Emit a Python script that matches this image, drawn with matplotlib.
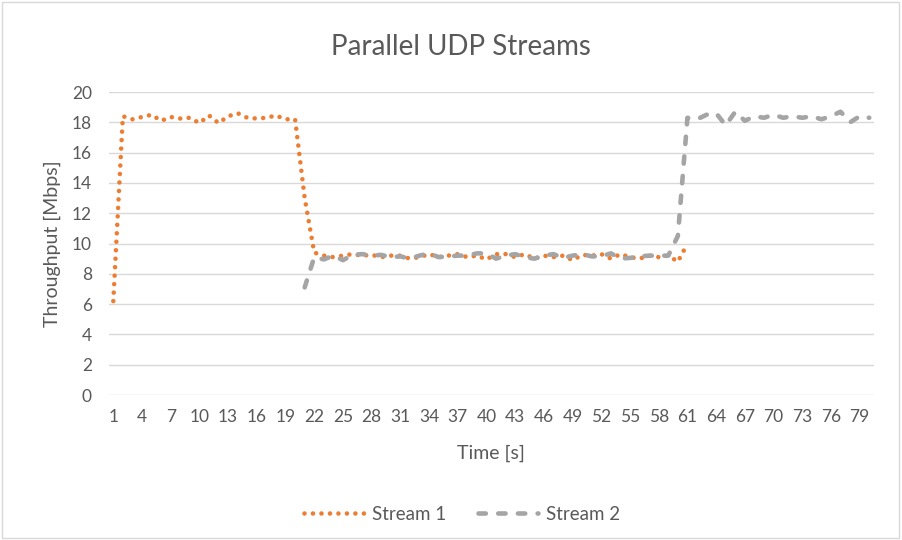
import matplotlib
matplotlib.use('Agg')
import matplotlib.pyplot as plt
from matplotlib.patches import Rectangle

# Throughput of the two UDP streams (Mbps per second)
time1 = list(range(1, 62))
stream1 = [6.2, 18.4, 18.2, 18.35, 18.5, 18.1, 18.35, 18.25, 18.3, 17.95,
           18.45, 17.95, 18.4, 18.6, 18.3, 18.25, 18.3, 18.45, 18.2, 18.2,
           13.0, 9.4,
           9.2, 9.1, 9.2, 9.3, 9.2, 9.25, 9.1, 9.2, 9.2, 9.0,
           9.1, 9.3, 9.1, 9.2, 9.3, 9.1, 9.2, 8.95, 9.3, 9.3,
           9.1, 9.3, 9.0, 9.2, 9.1, 9.2, 8.9, 9.25, 9.2, 9.3,
           9.0, 9.3, 9.1, 9.0, 9.2, 9.1, 9.2,
           8.8, 10.0]

time2 = list(range(21, 81))
stream2 = [7.1, 9.1,
           8.95, 9.2, 8.9, 9.25, 9.3, 9.2, 9.25, 9.1, 9.15, 9.0,
           9.2, 9.35, 9.1, 9.15, 9.2, 9.2, 9.35, 9.35, 9.0, 9.2,
           9.3, 9.1, 9.0, 9.2, 9.3, 9.05, 9.2, 9.3, 9.15, 9.15,
           9.35, 9.0, 9.05, 9.15, 9.2, 9.2, 9.2,
           10.5,
           18.3, 18.2, 18.5, 18.6, 17.8, 18.7, 18.1, 18.4, 18.3, 18.5,
           18.3, 18.4, 18.3, 18.4, 18.2, 18.4, 18.7, 18.0, 18.4, 18.3]

xticks = list(range(1, 81, 3))
yticks = list(range(0, 21, 2))

plt.rcParams['font.family'] = ['Lato', 'DejaVu Sans']
txt = '#595959'

fig = plt.figure(figsize=(9.02, 5.4), dpi=100)
fig.patches.append(Rectangle((0.002, 0.004), 0.995, 0.993, transform=fig.transFigure,
                             fill=False, edgecolor='#d9d9d9', linewidth=1))
ax = fig.add_axes([0.1203, 0.2685, 0.8487, 0.5611])

ax.plot(time1, stream1, color='#ED7D31', linewidth=3.3,
        linestyle=(0, (0.001, 1.85)), dash_capstyle='round', label='Stream 1')
ax.plot(time2, stream2, color='#A5A5A5', linewidth=3.3,
        linestyle=(0, (1.6, 2.7)), dash_capstyle='round', label='Stream 2')

ax.set_xlim(0.5, 80.5)
ax.set_ylim(0, 20)
ax.set_xticks(xticks)
ax.set_yticks(yticks)
ax.tick_params(length=0, labelsize=12.5, colors=txt)
ax.tick_params(axis='x', pad=10)
ax.tick_params(axis='y', pad=12)
ax.grid(axis='y', color='#d9d9d9', linewidth=1)
ax.set_axisbelow(True)
for s in ax.spines.values():
    s.set_visible(False)

fig.text(0.511, 1 - 47 / 540, 'Parallel UDP Streams', fontsize=20, color=txt,
         ha='center', va='center')
ax.set_xlabel('Time [s]', fontsize=14, color=txt, labelpad=14)
ax.set_ylabel('Throughput [Mbps]', fontsize=14, color=txt, labelpad=8)

ax.legend(loc='center', bbox_to_anchor=(462 / 902, 1 - 514 / 540),
          bbox_transform=fig.transFigure, ncol=2, frameon=False,
          fontsize=13.5, labelcolor=txt, handlelength=3.2, handletextpad=0.4,
          columnspacing=1.7)

fig.savefig('out.png', dpi=100)
